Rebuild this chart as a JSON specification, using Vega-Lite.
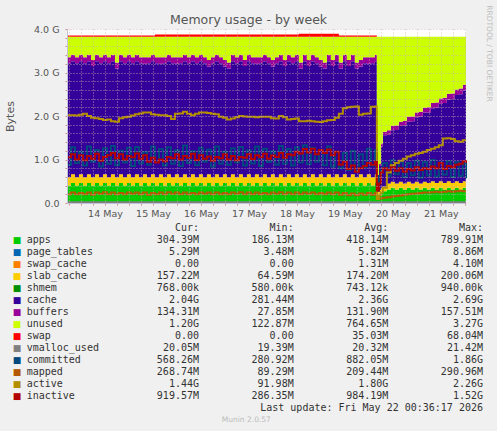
{
"$schema":"https://vega.github.io/schema/vega-lite/v6.json",
"autosize":{"type":"none"},
"padding":{"left":67,"top":29,"right":430,"bottom":402},
"background":"#f0f0f0",
"bounds":"flush",
"spacing":19,
"config":{"view":{"fill":null,"stroke":null},"font":"DejaVu Sans"},
"datasets":{
"legend":[
{"idx":1,"name":"apps","color":"#00CC00","Cur":"304.39M","Min":"186.13M","Avg":"418.14M","Max":"789.91M"},
{"idx":2,"name":"page_tables","color":"#0066B3","Cur":"5.29M","Min":"3.48M","Avg":"5.82M","Max":"8.86M"},
{"idx":3,"name":"swap_cache","color":"#FF8000","Cur":"0.00\u00a0","Min":"0.00\u00a0","Avg":"1.31M","Max":"4.10M"},
{"idx":4,"name":"slab_cache","color":"#FFCC00","Cur":"157.22M","Min":"64.59M","Avg":"174.20M","Max":"200.06M"},
{"idx":5,"name":"shmem","color":"#008F00","Cur":"768.00k","Min":"580.00k","Avg":"743.12k","Max":"940.00k"},
{"idx":6,"name":"cache","color":"#330099","Cur":"2.04G","Min":"281.44M","Avg":"2.36G","Max":"2.69G"},
{"idx":7,"name":"buffers","color":"#990099","Cur":"134.31M","Min":"27.85M","Avg":"131.90M","Max":"157.51M"},
{"idx":8,"name":"unused","color":"#CCFF00","Cur":"1.20G","Min":"122.87M","Avg":"764.65M","Max":"3.27G"},
{"idx":9,"name":"swap","color":"#FF0000","Cur":"0.00\u00a0","Min":"0.00\u00a0","Avg":"35.03M","Max":"68.04M"},
{"idx":10,"name":"vmalloc_used","color":"#808080","Cur":"20.05M","Min":"19.39M","Avg":"20.32M","Max":"21.42M"},
{"idx":11,"name":"committed","color":"#00487D","Cur":"568.26M","Min":"280.92M","Avg":"882.05M","Max":"1.86G"},
{"idx":12,"name":"mapped","color":"#B35A00","Cur":"268.74M","Min":"89.29M","Avg":"209.44M","Max":"290.96M"},
{"idx":13,"name":"active","color":"#B38F00","Cur":"1.44G","Min":"91.98M","Avg":"1.80G","Max":"2.26G"},
{"idx":14,"name":"inactive","color":"#B30000","Cur":"919.57M","Min":"286.35M","Avg":"984.19M","Max":"1.52G"}
],
"mem":[
{"t":"2026-05-13T17:00","apps":0.40,"slab_cache":0.19,"cache":2.62,"buffers":0.14,"unused":0.47,"swap":0.03,"vmalloc_used":0.02,"committed":0.88,"mapped":0.20,"active":2.02,"inactive":1.05},
{"t":"2026-05-13T19:00","apps":0.46,"slab_cache":0.20,"cache":2.60,"buffers":0.15,"unused":0.41,"swap":0.03,"vmalloc_used":0.02,"committed":1.28,"mapped":0.24,"active":2.02,"inactive":1.12},
{"t":"2026-05-13T21:00","apps":0.40,"slab_cache":0.19,"cache":2.62,"buffers":0.14,"unused":0.47,"swap":0.03,"vmalloc_used":0.02,"committed":0.92,"mapped":0.20,"active":2.01,"inactive":1.00},
{"t":"2026-05-13T23:00","apps":0.46,"slab_cache":0.20,"cache":2.60,"buffers":0.15,"unused":0.41,"swap":0.03,"vmalloc_used":0.02,"committed":1.18,"mapped":0.23,"active":2.03,"inactive":1.10},
{"t":"2026-05-14T01:00","apps":0.40,"slab_cache":0.19,"cache":2.62,"buffers":0.14,"unused":0.47,"swap":0.03,"vmalloc_used":0.02,"committed":0.86,"mapped":0.20,"active":2.05,"inactive":0.98},
{"t":"2026-05-14T03:00","apps":0.46,"slab_cache":0.20,"cache":2.60,"buffers":0.15,"unused":0.41,"swap":0.03,"vmalloc_used":0.02,"committed":1.30,"mapped":0.24,"active":2.00,"inactive":1.08},
{"t":"2026-05-14T05:00","apps":0.40,"slab_cache":0.19,"cache":2.56,"buffers":0.14,"unused":0.53,"swap":0.03,"vmalloc_used":0.02,"committed":0.95,"mapped":0.19,"active":1.96,"inactive":1.02},
{"t":"2026-05-14T07:00","apps":0.46,"slab_cache":0.20,"cache":2.60,"buffers":0.15,"unused":0.41,"swap":0.03,"vmalloc_used":0.02,"committed":1.22,"mapped":0.24,"active":1.95,"inactive":1.13},
{"t":"2026-05-14T09:00","apps":0.40,"slab_cache":0.19,"cache":2.62,"buffers":0.14,"unused":0.47,"swap":0.03,"vmalloc_used":0.02,"committed":0.84,"mapped":0.21,"active":1.93,"inactive":0.97},
{"t":"2026-05-14T11:00","apps":0.46,"slab_cache":0.20,"cache":2.60,"buffers":0.15,"unused":0.41,"swap":0.03,"vmalloc_used":0.02,"committed":1.26,"mapped":0.25,"active":1.91,"inactive":1.06},
{"t":"2026-05-14T13:00","apps":0.40,"slab_cache":0.19,"cache":2.62,"buffers":0.14,"unused":0.47,"swap":0.03,"vmalloc_used":0.02,"committed":0.90,"mapped":0.20,"active":1.92,"inactive":1.10},
{"t":"2026-05-14T15:00","apps":0.46,"slab_cache":0.20,"cache":2.60,"buffers":0.15,"unused":0.41,"swap":0.03,"vmalloc_used":0.02,"committed":1.31,"mapped":0.24,"active":1.88,"inactive":1.15},
{"t":"2026-05-14T17:00","apps":0.40,"slab_cache":0.19,"cache":2.50,"buffers":0.14,"unused":0.59,"swap":0.03,"vmalloc_used":0.02,"committed":0.87,"mapped":0.20,"active":1.87,"inactive":1.03},
{"t":"2026-05-14T19:00","apps":0.46,"slab_cache":0.20,"cache":2.60,"buffers":0.15,"unused":0.41,"swap":0.03,"vmalloc_used":0.02,"committed":1.20,"mapped":0.23,"active":1.95,"inactive":1.12},
{"t":"2026-05-14T21:00","apps":0.40,"slab_cache":0.19,"cache":2.62,"buffers":0.14,"unused":0.47,"swap":0.03,"vmalloc_used":0.02,"committed":0.93,"mapped":0.20,"active":1.97,"inactive":1.00},
{"t":"2026-05-14T23:00","apps":0.46,"slab_cache":0.20,"cache":2.60,"buffers":0.15,"unused":0.41,"swap":0.03,"vmalloc_used":0.02,"committed":1.27,"mapped":0.24,"active":1.98,"inactive":1.08},
{"t":"2026-05-15T01:00","apps":0.40,"slab_cache":0.19,"cache":2.62,"buffers":0.14,"unused":0.47,"swap":0.03,"vmalloc_used":0.02,"committed":0.85,"mapped":0.21,"active":2.01,"inactive":1.05},
{"t":"2026-05-15T03:00","apps":0.46,"slab_cache":0.20,"cache":2.60,"buffers":0.15,"unused":0.41,"swap":0.03,"vmalloc_used":0.02,"committed":1.29,"mapped":0.24,"active":2.04,"inactive":1.14},
{"t":"2026-05-15T05:00","apps":0.40,"slab_cache":0.19,"cache":2.62,"buffers":0.14,"unused":0.47,"swap":0.03,"vmalloc_used":0.02,"committed":0.91,"mapped":0.20,"active":2.06,"inactive":1.02},
{"t":"2026-05-15T07:00","apps":0.46,"slab_cache":0.20,"cache":2.54,"buffers":0.15,"unused":0.47,"swap":0.03,"vmalloc_used":0.02,"committed":1.17,"mapped":0.24,"active":2.08,"inactive":1.10},
{"t":"2026-05-15T09:00","apps":0.40,"slab_cache":0.19,"cache":2.62,"buffers":0.14,"unused":0.47,"swap":0.03,"vmalloc_used":0.02,"committed":0.88,"mapped":0.19,"active":2.08,"inactive":0.95},
{"t":"2026-05-15T11:00","apps":0.46,"slab_cache":0.20,"cache":2.60,"buffers":0.15,"unused":0.41,"swap":0.03,"vmalloc_used":0.02,"committed":1.30,"mapped":0.23,"active":2.04,"inactive":1.04},
{"t":"2026-05-15T13:00","apps":0.40,"slab_cache":0.19,"cache":2.62,"buffers":0.14,"unused":0.47,"swap":0.055,"vmalloc_used":0.02,"committed":0.94,"mapped":0.20,"active":2.03,"inactive":0.93},
{"t":"2026-05-15T15:00","apps":0.46,"slab_cache":0.20,"cache":2.54,"buffers":0.15,"unused":0.47,"swap":0.055,"vmalloc_used":0.02,"committed":1.24,"mapped":0.24,"active":2.02,"inactive":1.00},
{"t":"2026-05-15T17:00","apps":0.40,"slab_cache":0.19,"cache":2.62,"buffers":0.14,"unused":0.47,"swap":0.055,"vmalloc_used":0.02,"committed":0.86,"mapped":0.20,"active":2.02,"inactive":0.96},
{"t":"2026-05-15T19:00","apps":0.46,"slab_cache":0.20,"cache":2.60,"buffers":0.15,"unused":0.41,"swap":0.055,"vmalloc_used":0.02,"committed":1.28,"mapped":0.25,"active":2.00,"inactive":1.06},
{"t":"2026-05-15T21:00","apps":0.40,"slab_cache":0.19,"cache":2.62,"buffers":0.14,"unused":0.47,"swap":0.055,"vmalloc_used":0.02,"committed":0.90,"mapped":0.21,"active":1.93,"inactive":1.03},
{"t":"2026-05-15T23:00","apps":0.46,"slab_cache":0.20,"cache":2.54,"buffers":0.15,"unused":0.47,"swap":0.055,"vmalloc_used":0.02,"committed":1.21,"mapped":0.24,"active":2.05,"inactive":1.12},
{"t":"2026-05-16T01:00","apps":0.40,"slab_cache":0.19,"cache":2.62,"buffers":0.14,"unused":0.47,"swap":0.055,"vmalloc_used":0.02,"committed":0.85,"mapped":0.20,"active":2.06,"inactive":1.00},
{"t":"2026-05-16T03:00","apps":0.46,"slab_cache":0.20,"cache":2.60,"buffers":0.15,"unused":0.41,"swap":0.055,"vmalloc_used":0.02,"committed":1.32,"mapped":0.24,"active":2.10,"inactive":1.08},
{"t":"2026-05-16T05:00","apps":0.40,"slab_cache":0.19,"cache":2.62,"buffers":0.14,"unused":0.47,"swap":0.055,"vmalloc_used":0.02,"committed":0.92,"mapped":0.20,"active":2.05,"inactive":1.04},
{"t":"2026-05-16T07:00","apps":0.46,"slab_cache":0.20,"cache":2.60,"buffers":0.15,"unused":0.41,"swap":0.055,"vmalloc_used":0.02,"committed":1.19,"mapped":0.23,"active":2.02,"inactive":1.13},
{"t":"2026-05-16T09:00","apps":0.40,"slab_cache":0.19,"cache":2.62,"buffers":0.14,"unused":0.47,"swap":0.055,"vmalloc_used":0.02,"committed":0.87,"mapped":0.20,"active":2.05,"inactive":0.99},
{"t":"2026-05-16T11:00","apps":0.46,"slab_cache":0.20,"cache":2.60,"buffers":0.15,"unused":0.41,"swap":0.055,"vmalloc_used":0.02,"committed":1.27,"mapped":0.24,"active":2.08,"inactive":1.10},
{"t":"2026-05-16T13:00","apps":0.40,"slab_cache":0.19,"cache":2.62,"buffers":0.14,"unused":0.47,"swap":0.055,"vmalloc_used":0.02,"committed":0.95,"mapped":0.21,"active":2.08,"inactive":1.02},
{"t":"2026-05-16T15:00","apps":0.46,"slab_cache":0.20,"cache":2.48,"buffers":0.15,"unused":0.53,"swap":0.055,"vmalloc_used":0.02,"committed":1.23,"mapped":0.24,"active":2.07,"inactive":1.07},
{"t":"2026-05-16T17:00","apps":0.40,"slab_cache":0.19,"cache":2.62,"buffers":0.14,"unused":0.47,"swap":0.055,"vmalloc_used":0.02,"committed":0.84,"mapped":0.20,"active":2.05,"inactive":0.97},
{"t":"2026-05-16T19:00","apps":0.46,"slab_cache":0.20,"cache":2.60,"buffers":0.15,"unused":0.41,"swap":0.055,"vmalloc_used":0.02,"committed":1.30,"mapped":0.24,"active":2.04,"inactive":1.06},
{"t":"2026-05-16T21:00","apps":0.40,"slab_cache":0.19,"cache":2.62,"buffers":0.14,"unused":0.47,"swap":0.055,"vmalloc_used":0.02,"committed":0.90,"mapped":0.20,"active":1.98,"inactive":1.03},
{"t":"2026-05-16T23:00","apps":0.46,"slab_cache":0.20,"cache":2.48,"buffers":0.15,"unused":0.53,"swap":0.055,"vmalloc_used":0.02,"committed":1.18,"mapped":0.23,"active":1.96,"inactive":1.12},
{"t":"2026-05-17T01:00","apps":0.40,"slab_cache":0.19,"cache":2.50,"buffers":0.14,"unused":0.59,"swap":0.055,"vmalloc_used":0.02,"committed":0.88,"mapped":0.20,"active":1.92,"inactive":1.00},
{"t":"2026-05-17T03:00","apps":0.46,"slab_cache":0.20,"cache":2.60,"buffers":0.15,"unused":0.41,"swap":0.055,"vmalloc_used":0.02,"committed":1.26,"mapped":0.24,"active":1.94,"inactive":1.08},
{"t":"2026-05-17T05:00","apps":0.40,"slab_cache":0.19,"cache":2.62,"buffers":0.14,"unused":0.47,"swap":0.055,"vmalloc_used":0.02,"committed":0.93,"mapped":0.21,"active":1.97,"inactive":0.98},
{"t":"2026-05-17T07:00","apps":0.46,"slab_cache":0.20,"cache":2.60,"buffers":0.15,"unused":0.41,"swap":0.055,"vmalloc_used":0.02,"committed":1.29,"mapped":0.25,"active":2.00,"inactive":1.06},
{"t":"2026-05-17T09:00","apps":0.40,"slab_cache":0.19,"cache":2.56,"buffers":0.14,"unused":0.53,"swap":0.055,"vmalloc_used":0.02,"committed":0.86,"mapped":0.20,"active":1.99,"inactive":1.04},
{"t":"2026-05-17T11:00","apps":0.46,"slab_cache":0.20,"cache":2.60,"buffers":0.15,"unused":0.41,"swap":0.055,"vmalloc_used":0.02,"committed":1.21,"mapped":0.24,"active":1.98,"inactive":1.12},
{"t":"2026-05-17T13:00","apps":0.40,"slab_cache":0.19,"cache":2.62,"buffers":0.14,"unused":0.47,"swap":0.055,"vmalloc_used":0.02,"committed":0.91,"mapped":0.20,"active":1.98,"inactive":1.01},
{"t":"2026-05-17T15:00","apps":0.46,"slab_cache":0.20,"cache":2.54,"buffers":0.15,"unused":0.47,"swap":0.055,"vmalloc_used":0.02,"committed":1.30,"mapped":0.24,"active":1.97,"inactive":1.10},
{"t":"2026-05-17T17:00","apps":0.40,"slab_cache":0.19,"cache":2.62,"buffers":0.14,"unused":0.47,"swap":0.055,"vmalloc_used":0.02,"committed":0.85,"mapped":0.20,"active":1.98,"inactive":1.05},
{"t":"2026-05-17T19:00","apps":0.46,"slab_cache":0.20,"cache":2.60,"buffers":0.15,"unused":0.41,"swap":0.055,"vmalloc_used":0.02,"committed":1.25,"mapped":0.23,"active":1.98,"inactive":1.13},
{"t":"2026-05-17T21:00","apps":0.40,"slab_cache":0.19,"cache":2.62,"buffers":0.14,"unused":0.47,"swap":0.055,"vmalloc_used":0.02,"committed":0.94,"mapped":0.20,"active":1.98,"inactive":1.02},
{"t":"2026-05-17T23:00","apps":0.46,"slab_cache":0.20,"cache":2.48,"buffers":0.15,"unused":0.53,"swap":0.055,"vmalloc_used":0.02,"committed":1.19,"mapped":0.24,"active":1.95,"inactive":1.09},
{"t":"2026-05-18T01:00","apps":0.40,"slab_cache":0.19,"cache":2.62,"buffers":0.14,"unused":0.47,"swap":0.055,"vmalloc_used":0.02,"committed":0.88,"mapped":0.21,"active":1.94,"inactive":1.06},
{"t":"2026-05-18T03:00","apps":0.46,"slab_cache":0.20,"cache":2.60,"buffers":0.15,"unused":0.41,"swap":0.055,"vmalloc_used":0.02,"committed":1.31,"mapped":0.25,"active":2.00,"inactive":1.15},
{"t":"2026-05-18T05:00","apps":0.40,"slab_cache":0.19,"cache":2.56,"buffers":0.14,"unused":0.53,"swap":0.055,"vmalloc_used":0.02,"committed":0.90,"mapped":0.20,"active":1.97,"inactive":1.04},
{"t":"2026-05-18T07:00","apps":0.46,"slab_cache":0.20,"cache":2.60,"buffers":0.15,"unused":0.41,"swap":0.055,"vmalloc_used":0.02,"committed":1.24,"mapped":0.24,"active":1.92,"inactive":1.12},
{"t":"2026-05-18T09:00","apps":0.40,"slab_cache":0.19,"cache":2.62,"buffers":0.14,"unused":0.47,"swap":0.055,"vmalloc_used":0.02,"committed":0.86,"mapped":0.20,"active":1.93,"inactive":1.10},
{"t":"2026-05-18T11:00","apps":0.46,"slab_cache":0.20,"cache":2.60,"buffers":0.15,"unused":0.41,"swap":0.055,"vmalloc_used":0.02,"committed":1.28,"mapped":0.24,"active":1.94,"inactive":1.18},
{"t":"2026-05-18T13:00","apps":0.40,"slab_cache":0.19,"cache":2.50,"buffers":0.14,"unused":0.59,"swap":0.068,"vmalloc_used":0.02,"committed":0.93,"mapped":0.20,"active":1.88,"inactive":1.14},
{"t":"2026-05-18T15:00","apps":0.46,"slab_cache":0.20,"cache":2.60,"buffers":0.15,"unused":0.41,"swap":0.068,"vmalloc_used":0.02,"committed":1.33,"mapped":0.24,"active":1.88,"inactive":1.24},
{"t":"2026-05-18T17:00","apps":0.40,"slab_cache":0.19,"cache":2.56,"buffers":0.14,"unused":0.53,"swap":0.068,"vmalloc_used":0.02,"committed":0.89,"mapped":0.21,"active":1.89,"inactive":1.16},
{"t":"2026-05-18T19:00","apps":0.46,"slab_cache":0.20,"cache":2.60,"buffers":0.15,"unused":0.41,"swap":0.068,"vmalloc_used":0.02,"committed":1.27,"mapped":0.24,"active":1.88,"inactive":1.25},
{"t":"2026-05-18T21:00","apps":0.40,"slab_cache":0.19,"cache":2.62,"buffers":0.14,"unused":0.47,"swap":0.068,"vmalloc_used":0.02,"committed":0.95,"mapped":0.20,"active":1.87,"inactive":1.12},
{"t":"2026-05-18T23:00","apps":0.46,"slab_cache":0.20,"cache":2.48,"buffers":0.15,"unused":0.53,"swap":0.068,"vmalloc_used":0.02,"committed":1.22,"mapped":0.23,"active":1.86,"inactive":1.22},
{"t":"2026-05-19T01:00","apps":0.40,"slab_cache":0.19,"cache":2.50,"buffers":0.14,"unused":0.59,"swap":0.068,"vmalloc_used":0.02,"committed":0.87,"mapped":0.20,"active":1.88,"inactive":1.15},
{"t":"2026-05-19T03:00","apps":0.46,"slab_cache":0.20,"cache":2.60,"buffers":0.15,"unused":0.41,"swap":0.068,"vmalloc_used":0.02,"committed":1.30,"mapped":0.24,"active":1.90,"inactive":1.23},
{"t":"2026-05-19T05:00","apps":0.40,"slab_cache":0.19,"cache":2.56,"buffers":0.14,"unused":0.53,"swap":0.068,"vmalloc_used":0.02,"committed":0.84,"mapped":0.20,"active":1.91,"inactive":1.10},
{"t":"2026-05-19T07:00","apps":0.46,"slab_cache":0.20,"cache":2.60,"buffers":0.15,"unused":0.41,"swap":0.068,"vmalloc_used":0.02,"committed":1.18,"mapped":0.24,"active":1.96,"inactive":1.18},
{"t":"2026-05-19T09:00","apps":0.40,"slab_cache":0.19,"cache":2.50,"buffers":0.14,"unused":0.59,"swap":0.03,"vmalloc_used":0.02,"committed":0.80,"mapped":0.19,"active":2.05,"inactive":0.88},
{"t":"2026-05-19T11:00","apps":0.46,"slab_cache":0.20,"cache":2.60,"buffers":0.15,"unused":0.41,"swap":0.03,"vmalloc_used":0.02,"committed":1.15,"mapped":0.23,"active":2.18,"inactive":0.95},
{"t":"2026-05-19T13:00","apps":0.40,"slab_cache":0.19,"cache":2.56,"buffers":0.14,"unused":0.53,"swap":0.03,"vmalloc_used":0.02,"committed":0.76,"mapped":0.18,"active":2.20,"inactive":0.78},
{"t":"2026-05-19T15:00","apps":0.46,"slab_cache":0.20,"cache":2.60,"buffers":0.15,"unused":0.41,"swap":0.03,"vmalloc_used":0.02,"committed":1.20,"mapped":0.22,"active":2.21,"inactive":0.86},
{"t":"2026-05-19T17:00","apps":0.40,"slab_cache":0.19,"cache":2.50,"buffers":0.14,"unused":0.59,"swap":0.03,"vmalloc_used":0.02,"committed":0.74,"mapped":0.18,"active":2.22,"inactive":0.72},
{"t":"2026-05-19T19:00","apps":0.46,"slab_cache":0.20,"cache":2.48,"buffers":0.15,"unused":0.53,"swap":0.03,"vmalloc_used":0.02,"committed":1.12,"mapped":0.22,"active":2.03,"inactive":0.80},
{"t":"2026-05-19T21:00","apps":0.40,"slab_cache":0.19,"cache":2.62,"buffers":0.14,"unused":0.47,"swap":0.03,"vmalloc_used":0.02,"committed":0.82,"mapped":0.19,"active":2.05,"inactive":0.85},
{"t":"2026-05-19T23:00","apps":0.46,"slab_cache":0.20,"cache":2.54,"buffers":0.15,"unused":0.47,"swap":0.03,"vmalloc_used":0.02,"committed":1.25,"mapped":0.23,"active":2.06,"inactive":0.92},
{"t":"2026-05-20T01:00","apps":0.40,"slab_cache":0.19,"cache":2.62,"buffers":0.14,"unused":0.47,"swap":0.03,"vmalloc_used":0.02,"committed":0.86,"mapped":0.19,"active":2.21,"inactive":0.88},
{"t":"2026-05-20T03:00","apps":0.46,"slab_cache":0.20,"cache":2.60,"buffers":0.15,"unused":0.41,"swap":0.03,"vmalloc_used":0.02,"committed":1.22,"mapped":0.23,"active":2.22,"inactive":0.95},
{"t":"2026-05-20T04:00","apps":0.19,"slab_cache":0.065,"cache":0.28,"buffers":0.03,"unused":3.255,"swap":0,"vmalloc_used":0.02,"committed":0.28,"mapped":0.09,"active":0.09,"inactive":0.29},
{"t":"2026-05-20T05:00","apps":0.22,"slab_cache":0.08,"cache":0.55,"buffers":0.05,"unused":2.92,"swap":0,"vmalloc_used":0.02,"committed":0.62,"mapped":0.10,"active":0.18,"inactive":0.45},
{"t":"2026-05-20T06:00","apps":0.25,"slab_cache":0.10,"cache":0.95,"buffers":0.07,"unused":2.45,"swap":0,"vmalloc_used":0.02,"committed":0.75,"mapped":0.11,"active":0.25,"inactive":0.70},
{"t":"2026-05-20T07:00","apps":0.27,"slab_cache":0.11,"cache":1.18,"buffers":0.08,"unused":2.18,"swap":0,"vmalloc_used":0.02,"committed":0.92,"mapped":0.12,"active":0.35,"inactive":0.80},
{"t":"2026-05-20T09:00","apps":0.31,"slab_cache":0.14,"cache":1.12,"buffers":0.10,"unused":2.15,"swap":0,"vmalloc_used":0.02,"committed":0.62,"mapped":0.13,"active":0.70,"inactive":0.76},
{"t":"2026-05-20T11:00","apps":0.35,"slab_cache":0.14,"cache":1.18,"buffers":0.10,"unused":2.05,"swap":0,"vmalloc_used":0.02,"committed":0.98,"mapped":0.15,"active":0.87,"inactive":0.82},
{"t":"2026-05-20T13:00","apps":0.31,"slab_cache":0.14,"cache":1.23,"buffers":0.10,"unused":2.04,"swap":0,"vmalloc_used":0.02,"committed":0.66,"mapped":0.16,"active":0.92,"inactive":0.74},
{"t":"2026-05-20T15:00","apps":0.35,"slab_cache":0.14,"cache":1.28,"buffers":0.10,"unused":1.95,"swap":0,"vmalloc_used":0.02,"committed":0.95,"mapped":0.17,"active":0.97,"inactive":0.80},
{"t":"2026-05-20T17:00","apps":0.31,"slab_cache":0.14,"cache":1.34,"buffers":0.10,"unused":1.93,"swap":0,"vmalloc_used":0.02,"committed":0.60,"mapped":0.19,"active":1.02,"inactive":0.72},
{"t":"2026-05-20T19:00","apps":0.35,"slab_cache":0.14,"cache":1.38,"buffers":0.11,"unused":1.84,"swap":0,"vmalloc_used":0.02,"committed":0.92,"mapped":0.20,"active":1.07,"inactive":0.78},
{"t":"2026-05-20T21:00","apps":0.31,"slab_cache":0.14,"cache":1.43,"buffers":0.11,"unused":1.83,"swap":0,"vmalloc_used":0.02,"committed":0.64,"mapped":0.21,"active":1.10,"inactive":0.75},
{"t":"2026-05-20T23:00","apps":0.35,"slab_cache":0.14,"cache":1.48,"buffers":0.11,"unused":1.74,"swap":0,"vmalloc_used":0.02,"committed":0.97,"mapped":0.22,"active":1.13,"inactive":0.82},
{"t":"2026-05-21T01:00","apps":0.31,"slab_cache":0.14,"cache":1.54,"buffers":0.11,"unused":1.72,"swap":0,"vmalloc_used":0.02,"committed":0.58,"mapped":0.23,"active":1.15,"inactive":0.76},
{"t":"2026-05-21T03:00","apps":0.35,"slab_cache":0.14,"cache":1.59,"buffers":0.11,"unused":1.63,"swap":0,"vmalloc_used":0.02,"committed":0.94,"mapped":0.24,"active":1.18,"inactive":0.80},
{"t":"2026-05-21T05:00","apps":0.31,"slab_cache":0.15,"cache":1.62,"buffers":0.12,"unused":1.62,"swap":0,"vmalloc_used":0.02,"committed":0.63,"mapped":0.24,"active":1.22,"inactive":0.78},
{"t":"2026-05-21T07:00","apps":0.35,"slab_cache":0.15,"cache":1.68,"buffers":0.12,"unused":1.52,"swap":0,"vmalloc_used":0.02,"committed":0.99,"mapped":0.25,"active":1.25,"inactive":0.84},
{"t":"2026-05-21T09:00","apps":0.31,"slab_cache":0.15,"cache":1.73,"buffers":0.12,"unused":1.51,"swap":0,"vmalloc_used":0.02,"committed":0.61,"mapped":0.26,"active":1.28,"inactive":0.80},
{"t":"2026-05-21T11:00","apps":0.35,"slab_cache":0.15,"cache":1.78,"buffers":0.12,"unused":1.42,"swap":0,"vmalloc_used":0.02,"committed":0.93,"mapped":0.25,"active":1.33,"inactive":0.92},
{"t":"2026-05-21T13:00","apps":0.31,"slab_cache":0.15,"cache":1.84,"buffers":0.12,"unused":1.40,"swap":0,"vmalloc_used":0.02,"committed":0.65,"mapped":0.26,"active":1.48,"inactive":0.78},
{"t":"2026-05-21T15:00","apps":0.35,"slab_cache":0.15,"cache":1.88,"buffers":0.13,"unused":1.31,"swap":0,"vmalloc_used":0.02,"committed":0.96,"mapped":0.27,"active":1.49,"inactive":0.85},
{"t":"2026-05-21T17:00","apps":0.31,"slab_cache":0.15,"cache":1.93,"buffers":0.13,"unused":1.30,"swap":0,"vmalloc_used":0.02,"committed":0.60,"mapped":0.26,"active":1.47,"inactive":0.82},
{"t":"2026-05-21T19:00","apps":0.35,"slab_cache":0.15,"cache":1.98,"buffers":0.13,"unused":1.21,"swap":0,"vmalloc_used":0.02,"committed":0.94,"mapped":0.27,"active":1.42,"inactive":0.88},
{"t":"2026-05-21T21:00","apps":0.31,"slab_cache":0.15,"cache":2.04,"buffers":0.13,"unused":1.19,"swap":0,"vmalloc_used":0.02,"committed":0.62,"mapped":0.28,"active":1.41,"inactive":0.90},
{"t":"2026-05-21T23:00","apps":0.35,"slab_cache":0.15,"cache":2.09,"buffers":0.13,"unused":1.10,"swap":0,"vmalloc_used":0.02,"committed":0.90,"mapped":0.27,"active":1.44,"inactive":0.96},
{"t":"2026-05-22T00:36","apps":0.30,"slab_cache":0.16,"cache":2.04,"buffers":0.13,"unused":1.19,"swap":0,"vmalloc_used":0.02,"committed":0.57,"mapped":0.27,"active":1.44,"inactive":0.92}
]},
"vconcat":[
{
 "width":399,"height":174,
 "view":{"fill":"#ffffff","stroke":null},
 "title":{"text":"Memory usage - by week","font":"DejaVu Sans","fontSize":12.5,"fontWeight":"normal","color":"#555555","anchor":"middle","frame":"group","dx":-18,"baseline":"bottom","offset":-15},
 "data":{"name":"mem"},
 "encoding":{
  "x":{"field":"t","type":"temporal","scale":{"domain":[{"year":2026,"month":5,"date":13,"hours":17},{"year":2026,"month":5,"date":22,"hours":0,"minutes":36}],"nice":false},
   "axis":{"title":null,"values":[{"year":2026,"month":5,"date":13,"hours":18},{"year":2026,"month":5,"date":14,"hours":0},{"year":2026,"month":5,"date":14,"hours":6},{"year":2026,"month":5,"date":14,"hours":12},{"year":2026,"month":5,"date":14,"hours":18},{"year":2026,"month":5,"date":15,"hours":0},{"year":2026,"month":5,"date":15,"hours":6},{"year":2026,"month":5,"date":15,"hours":12},{"year":2026,"month":5,"date":15,"hours":18},{"year":2026,"month":5,"date":16,"hours":0},{"year":2026,"month":5,"date":16,"hours":6},{"year":2026,"month":5,"date":16,"hours":12},{"year":2026,"month":5,"date":16,"hours":18},{"year":2026,"month":5,"date":17,"hours":0},{"year":2026,"month":5,"date":17,"hours":6},{"year":2026,"month":5,"date":17,"hours":12},{"year":2026,"month":5,"date":17,"hours":18},{"year":2026,"month":5,"date":18,"hours":0},{"year":2026,"month":5,"date":18,"hours":6},{"year":2026,"month":5,"date":18,"hours":12},{"year":2026,"month":5,"date":18,"hours":18},{"year":2026,"month":5,"date":19,"hours":0},{"year":2026,"month":5,"date":19,"hours":6},{"year":2026,"month":5,"date":19,"hours":12},{"year":2026,"month":5,"date":19,"hours":18},{"year":2026,"month":5,"date":20,"hours":0},{"year":2026,"month":5,"date":20,"hours":6},{"year":2026,"month":5,"date":20,"hours":12},{"year":2026,"month":5,"date":20,"hours":18},{"year":2026,"month":5,"date":21,"hours":0},{"year":2026,"month":5,"date":21,"hours":6},{"year":2026,"month":5,"date":21,"hours":12},{"year":2026,"month":5,"date":21,"hours":18},{"year":2026,"month":5,"date":22,"hours":0}],"labelExpr":"hours(datum.value) == 12 ? timeFormat(datum.value, '%d %b') : ''","labelFont":"DejaVu Sans","labelFontSize":9.5,"labelColor":"#555555","labelPadding":3,"labelOverlap":false,"labelFlush":false,"tickSize":2,"tickColor":"#d09090","grid":true,"gridDash":[1,2],"gridColor":"#d0b0b0","gridOpacity":0.8,"domainColor":"#c4c4d8","zindex":1}},
  "y":{"field":"value","type":"quantitative","scale":{"domain":[0,4],"nice":false},
   "axis":{"title":"Bytes","titleFont":"DejaVu Sans","titleFontSize":11,"titleFontWeight":"normal","titleColor":"#555555","titlePadding":18,"values":[0,0.2,0.4,0.6,0.8,1,1.2,1.4,1.6,1.8,2,2.2,2.4,2.6,2.8,3,3.2,3.4,3.6,3.8,4],"labelExpr":"abs(datum.value - round(datum.value)) < 0.01 ? (datum.value == 0 ? '0.0' : format(datum.value, '.1f') + ' G') : ''","labelFont":"DejaVu Sans","labelFontSize":9.5,"labelColor":"#555555","labelPadding":6,"labelFlush":false,"labelOverlap":false,"tickSize":2,"tickColor":"#d09090","grid":true,"gridDash":[1,2],"gridColor":"#d0b0b0","gridOpacity":0.8,"domainColor":"#c4c4d8","zindex":1}}
 },
 "layer":[
  {"transform":[{"fold":["apps","slab_cache","cache","buffers","unused","swap"],"as":["series","value"]},{"lookup":"series","from":{"data":{"name":"legend"},"key":"name","fields":["idx"]}}],
   "mark":{"type":"area","interpolate":"step-after"},
   "encoding":{
    "color":{"field":"series","type":"nominal","scale":{"domain":["apps","slab_cache","cache","buffers","unused","swap"],"range":["#00CC00","#FFCC00","#330099","#990099","#CCFF00","#FF0000"]},"legend":null},
    "order":{"field":"idx","type":"quantitative"}
   }},
  {"transform":[{"fold":["vmalloc_used","committed","mapped","active","inactive"],"as":["series","value"]}],
   "mark":{"type":"line","interpolate":"step-after","strokeWidth":2},
   "encoding":{
    "stroke":{"field":"series","type":"nominal","scale":{"domain":["vmalloc_used","committed","mapped","active","inactive"],"range":["#808080","#00487D","#B35A00","#B38F00","#B30000"]},"legend":null}
   }}
 ]
},
{
 "width":480,"height":204,
 "view":{"fill":null,"stroke":null},
 "layer":[
  {"data":{"name":"legend"},
   "mark":{"type":"text","text":"■","font":"DejaVu Sans","fontSize":9,"align":"center","baseline":"middle","dx":7.33},
   "encoding":{"x":{"datum":"b","type":"nominal","scale":{"type":"point","domain":["b","b2","a","a2","Cur","mid","Min","m2","Avg","a3","Max"],"range":[-57.33,416],"padding":0},"axis":null},
    "y":{"field":"name","type":"nominal","scale":{"type":"point","domain":["header","apps","page_tables","swap_cache","slab_cache","shmem","cache","buffers","unused","swap","vmalloc_used","committed","mapped","active","inactive","update","munin"],"padding":0.5},"axis":null},
    "color":{"field":"color","type":"nominal","scale":null,"legend":null}}},
  {"data":{"name":"legend"},
   "mark":{"type":"text","font":"DejaVu Sans Mono","fontSize":10,"align":"left","baseline":"middle","dx":17,"color":"#333333"},
   "encoding":{"x":{"datum":"b","type":"nominal","axis":null},"y":{"field":"name","type":"nominal","axis":null},"text":{"field":"name"}}},
  {"data":{"name":"legend"},
   "transform":[{"fold":["Cur","Min","Avg","Max"],"as":["col","val"]}],
   "mark":{"type":"text","font":"DejaVu Sans Mono","fontSize":10,"align":"right","baseline":"middle","color":"#333333"},
   "encoding":{"x":{"field":"col","type":"nominal","axis":null},"y":{"field":"name","type":"nominal","axis":null},"text":{"field":"val"}}},
  {"data":{"values":[{"col":"Cur","label":"Cur:\u00a0\u00a0"},{"col":"Min","label":"Min:\u00a0\u00a0"},{"col":"Avg","label":"Avg:\u00a0\u00a0"},{"col":"Max","label":"Max:\u00a0\u00a0"}]},
   "mark":{"type":"text","font":"DejaVu Sans Mono","fontSize":10,"align":"right","baseline":"middle","color":"#333333"},
   "encoding":{"x":{"field":"col","type":"nominal","axis":null},"y":{"datum":"header","type":"nominal","axis":null},"text":{"field":"label"}}},
  {"data":{"values":[{"label":"Last update: Fri May 22 00:36:17 2026"}]},
   "mark":{"type":"text","font":"DejaVu Sans Mono","fontSize":10,"align":"right","baseline":"middle","color":"#333333"},
   "encoding":{"x":{"datum":"Max","type":"nominal","axis":null},"y":{"datum":"update","type":"nominal","axis":null},"text":{"field":"label"}}},
  {"data":{"values":[{"label":"Munin 2.0.57"}]},
   "mark":{"type":"text","font":"DejaVu Sans","fontSize":7.5,"align":"center","baseline":"middle","color":"#bbbbbb"},
   "encoding":{"x":{"datum":"mid","type":"nominal","axis":null},"y":{"datum":"munin","type":"nominal","axis":null},"text":{"field":"label"}}},
  {"data":{"values":[{"label":"RRDTOOL / TOBI OETIKER"}]},
   "mark":{"type":"text","angle":90,"font":"DejaVu Sans","fontSize":7.5,"color":"#bdbdbd","align":"center","baseline":"middle","dx":-174.5,"dy":-6},
   "encoding":{"x":{"datum":"Max","type":"nominal","axis":null},"y":{"datum":"header","type":"nominal","axis":null},"text":{"field":"label"}}}
 ]
}
]
}
